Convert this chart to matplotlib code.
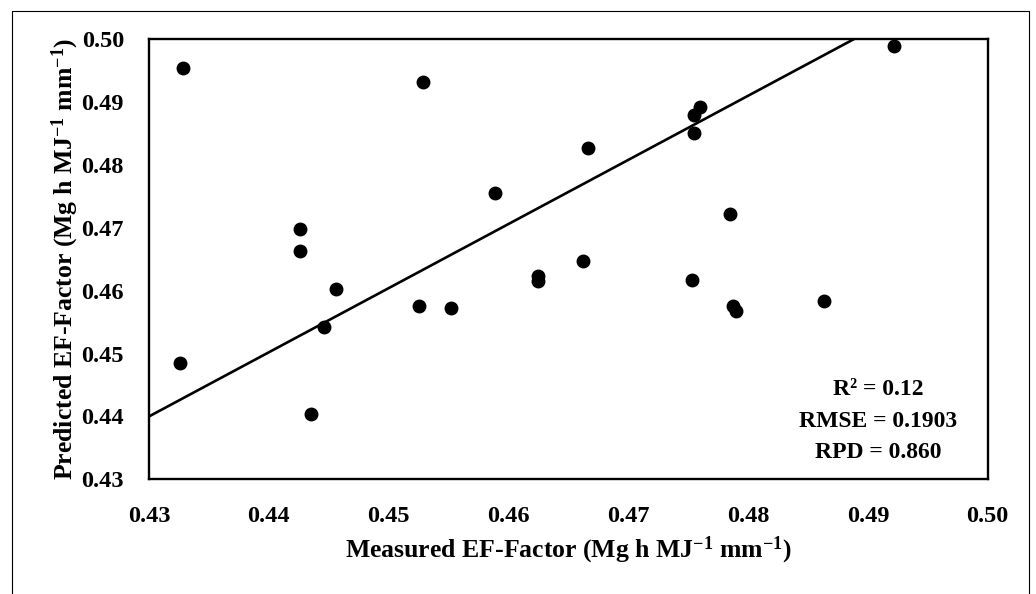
import matplotlib
matplotlib.use("Agg")
import matplotlib.pyplot as plt
from matplotlib.lines import Line2D

plt.rcParams['font.family'] = ['Liberation Serif', 'DejaVu Serif']
plt.rcParams['font.weight'] = 'bold'
plt.rcParams['mathtext.fontset'] = 'custom'
plt.rcParams['mathtext.rm'] = 'Liberation Serif:bold'
plt.rcParams['mathtext.bf'] = 'Liberation Serif:bold'
plt.rcParams['mathtext.default'] = 'rm'

# measured vs predicted EF-factor
measured = [0.4328, 0.4529, 0.4426, 0.4426, 0.4456, 0.4525, 0.4446, 0.4326,
            0.4435, 0.4666, 0.4589, 0.4755, 0.4760, 0.4755, 0.4662, 0.4625,
            0.4625, 0.4753, 0.4552, 0.4922, 0.4785, 0.4787, 0.4790, 0.4863]
predicted = [0.4955, 0.4932, 0.4699, 0.4663, 0.4603, 0.4576, 0.4542, 0.4485,
             0.4404, 0.4827, 0.4756, 0.4879, 0.4893, 0.4851, 0.4648, 0.4623,
             0.4615, 0.4617, 0.4572, 0.4989, 0.4722, 0.4575, 0.4568, 0.4583]

# trend line end points
line_x = [0.43, 0.4888]
line_y = [0.44, 0.50]

ticks = [0.43, 0.44, 0.45, 0.46, 0.47, 0.48, 0.49, 0.50]
stats = ['R\u00b2 = 0.12', 'RMSE = 0.1903', 'RPD = 0.860']

fig = plt.figure(figsize=(10.36, 5.94), dpi=100)
ax = fig.add_axes([0.1438, 0.1931, 0.8096, 0.7407])

ax.plot(line_x, line_y, color='black', lw=1.9, zorder=2)
ax.plot(measured, predicted, 'o', color='black', ms=9, zorder=3)

ax.set_xlim(0.43, 0.50)
ax.set_ylim(0.43, 0.50)
ax.set_xticks(ticks)
ax.set_yticks(ticks)
ax.set_xticklabels(['%.2f' % t for t in ticks])
ax.set_yticklabels(['%.2f' % t for t in ticks])
ax.tick_params(length=0, labelsize=17.5, pad=19)
ax.tick_params(axis='y', pad=18)
for s in ax.spines.values():
    s.set_linewidth(1.7)

ax.set_xlabel('Measured EF-Factor (Mg h MJ$^{-1}$ mm$^{-1}$)', fontsize=18.5,
              fontweight='bold', labelpad=6)
ax.set_ylabel('Predicted EF-Factor (Mg h MJ$^{-1}$ mm$^{-1}$)', fontsize=18.5,
              fontweight='bold', labelpad=0)

for i, s in enumerate(stats):
    ax.text(0.869, 0.203 - i * 0.0705, s, transform=ax.transAxes,
            ha='center', va='center', fontsize=17, fontweight='bold')

# outer frame
fig.add_artist(Line2D([0.0116, 0.0116, 0.9932, 0.9932], [0.0, 0.9815, 0.9815, 0.0],
                      transform=fig.transFigure, color='black', lw=0.8))

fig.savefig('out.png', dpi=100)
